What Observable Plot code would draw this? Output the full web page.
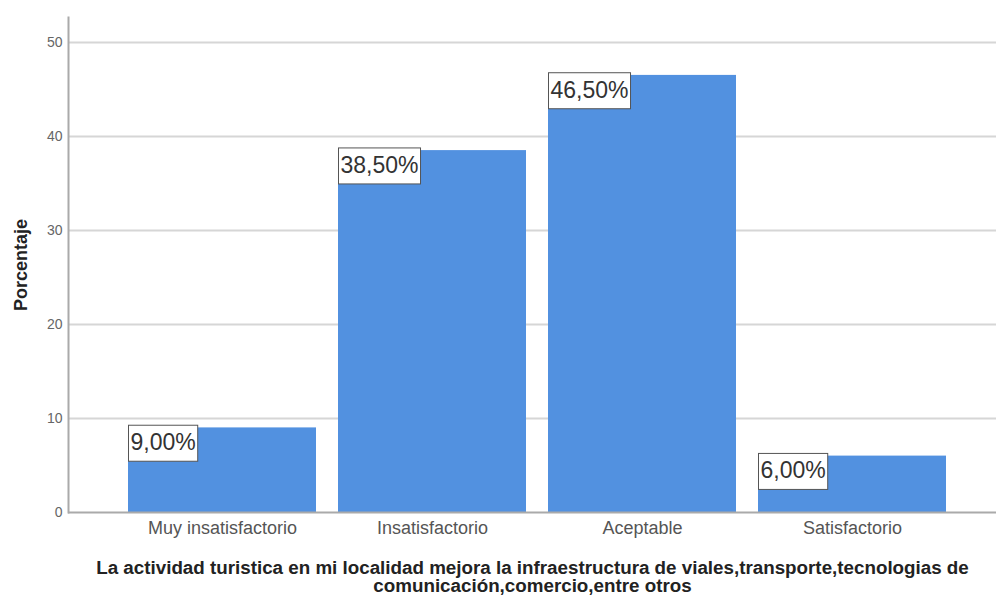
<!DOCTYPE html>
<html>
<head>
<meta charset="utf-8">
<script src="https://cdn.jsdelivr.net/npm/d3@7"></script>
<script src="https://cdn.jsdelivr.net/npm/@observablehq/plot@0.6"></script>
<style>
  html, body { margin: 0; padding: 0; background: #fff; }
  #chart svg { display: block; }
</style>
</head>
<body>
<div id="chart"></div>
<script>
const categories = ["Muy insatisfactorio", "Insatisfactorio", "Aceptable", "Satisfactorio"];
const percentages = [9.0, 38.5, 46.5, 6.0];
const valueLabels = ["9,00%", "38,50%", "46,50%", "6,00%"];
const yTicks = [0, 10, 20, 30, 40, 50];
const yTitle = "Porcentaje";
const xTitleLines = [
  "La actividad turistica en mi localidad mejora la infraestructura de viales,transporte,tecnologias de",
  "comunicación,comercio,entre otros"
];

const data = categories.map((c, i) => ({category: c, value: percentages[i], label: valueLabels[i]}));

const plot = Plot.plot({
  width: 996,
  height: 596,
  marginTop: 17,
  marginBottom: 84,
  marginLeft: 68,
  marginRight: 0,
  style: {fontFamily: "'Liberation Sans', Arial, sans-serif", background: "#fff"},
  x: {domain: categories, range: [115.5, 959], paddingInner: 0.105, paddingOuter: 0.0525, label: null},
  y: {domain: [0, 52.66], label: null},
  marks: [
    Plot.gridY(yTicks.filter(d => d > 0), {stroke: "#d6d6d6", strokeOpacity: 1, strokeWidth: 2}),
    Plot.axisY({ticks: yTicks, tickSize: 0, tickPadding: 6, fontSize: 14, fill: "#666", label: null}),
    Plot.axisX({tickSize: 0, tickPadding: 9, fontSize: 18, fill: "#555", label: null}),
    Plot.barY(data, {x: "category", y: "value", fill: "#5291e0"}),
    Plot.frame({anchor: "left", stroke: "#aaa", strokeWidth: 2}),
    Plot.ruleY([0], {stroke: "#aaa", strokeWidth: 2}),
    Plot.text(data, {
      x: "category", y: "value", text: "label",
      textAnchor: "start", lineAnchor: "top", dy: 6,
      fontSize: 23, fill: "#333",
      render(index, scales, values, dimensions, context, next) {
        const bw = typeof scales.x.bandwidth === "function" ? scales.x.bandwidth() : scales.x.bandwidth;
        const X = Array.from(values.x, v => v - bw / 2 + 2);
        const g = next(index, scales, {...values, x: X}, dimensions, context);
        g.setAttribute("class", "value-labels");
        return g;
      }
    }),
    Plot.text([yTitle], {frameAnchor: "left", dx: -47, rotate: -90, fontSize: 18, fontWeight: "bold", fill: "#222", textAnchor: "middle", lineAnchor: "middle"}),
    Plot.text([xTitleLines[0]], {frameAnchor: "bottom", dy: 48, lineAnchor: "top", fontSize: 18.8, fontWeight: "bold", fill: "#222", textAnchor: "middle"}),
    Plot.text([xTitleLines[1]], {frameAnchor: "bottom", dy: 66, lineAnchor: "top", fontSize: 18.8, fontWeight: "bold", fill: "#222", textAnchor: "middle"})
  ]
});

document.getElementById("chart").appendChild(plot);

// draw bordered white boxes behind the value labels
const svgNS = "http://www.w3.org/2000/svg";
plot.querySelectorAll("g.value-labels text").forEach(t => {
  const bb = t.getBBox();
  const r = document.createElementNS(svgNS, "rect");
  r.setAttribute("x", bb.x - 2);
  r.setAttribute("y", bb.y - 4);
  r.setAttribute("width", bb.width + 4);
  r.setAttribute("height", bb.height + 10);
  r.setAttribute("fill", "#fff");
  r.setAttribute("stroke", "#555");
  r.setAttribute("stroke-width", 1);
  const tr = t.getAttribute("transform");
  if (tr) r.setAttribute("transform", tr);
  t.parentNode.insertBefore(r, t);
});
</script>
</body>
</html>
